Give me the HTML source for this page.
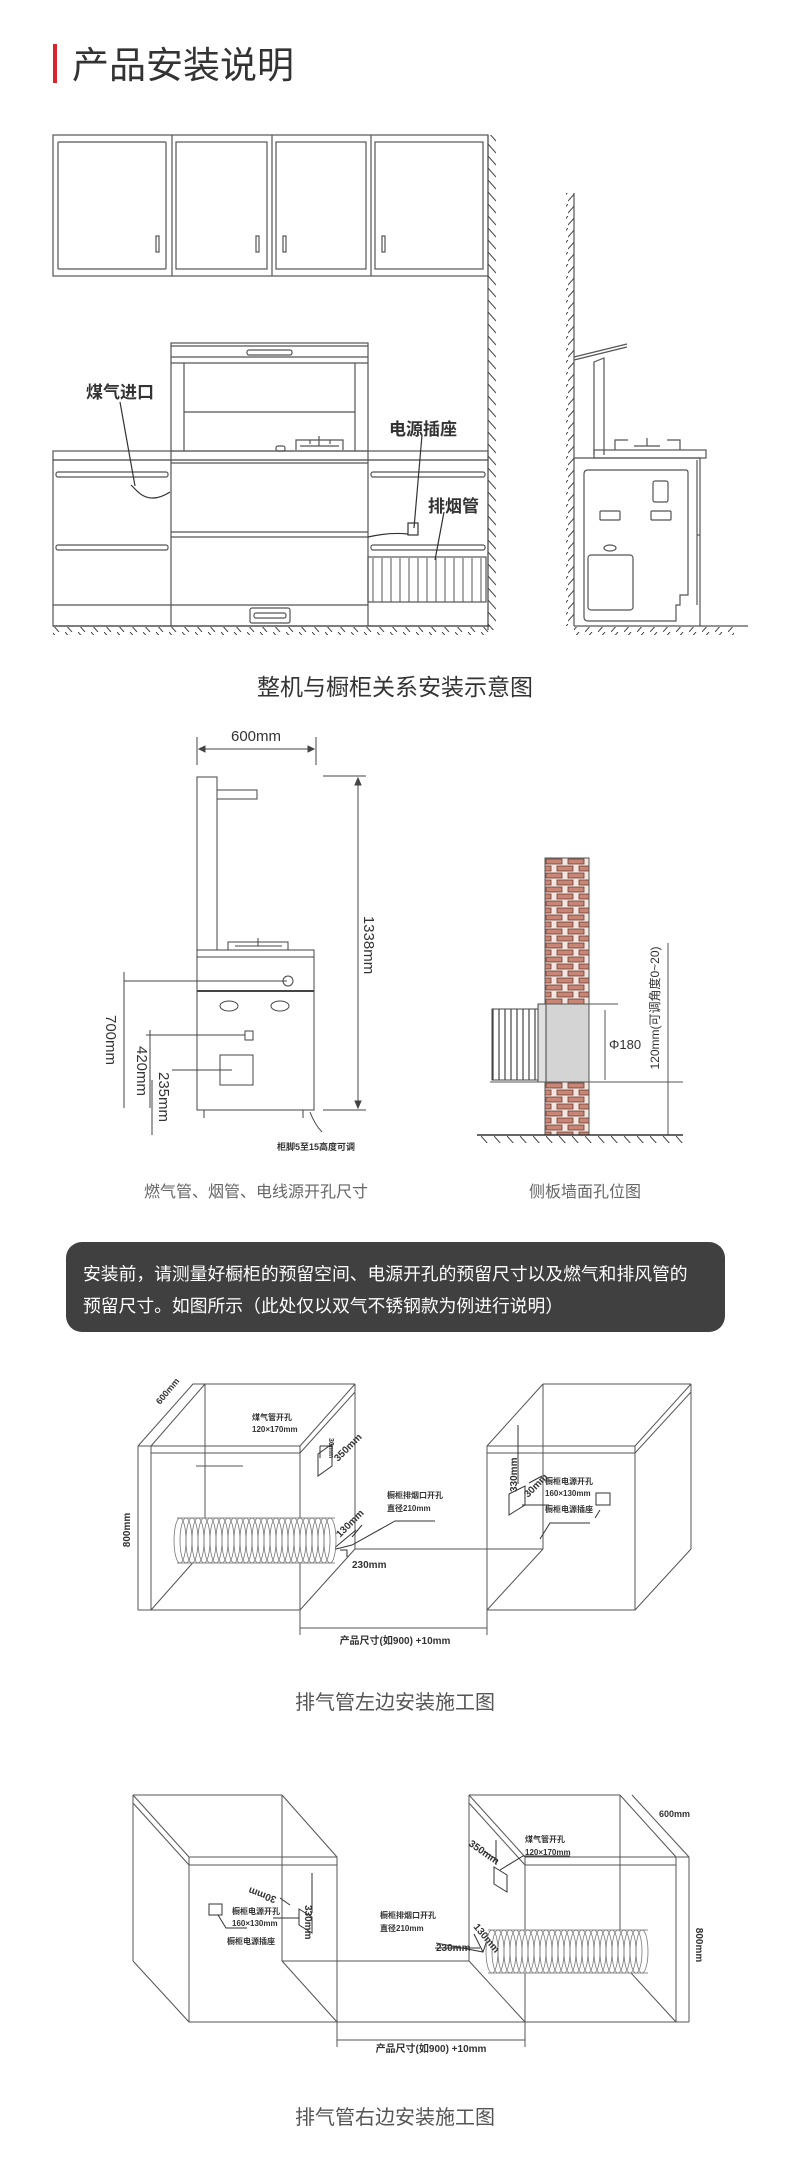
<!DOCTYPE html>
<html><head><meta charset="utf-8"><style>
html,body{margin:0;padding:0;background:#fff;}
svg{display:block;}
text{font-family:"Liberation Sans","Noto Sans CJK SC",sans-serif;}
</style></head><body>
<svg width="790" height="2158" viewBox="0 0 790 2158" xmlns="http://www.w3.org/2000/svg">
<defs>
<pattern id="hr" patternUnits="userSpaceOnUse" width="8" height="12"><line x1="0" y1="0" x2="8" y2="9" stroke="#444" stroke-width="1"/></pattern>
<pattern id="hl" patternUnits="userSpaceOnUse" width="8" height="12"><line x1="8" y1="0" x2="0" y2="9" stroke="#444" stroke-width="1"/></pattern>
<pattern id="hf" patternUnits="userSpaceOnUse" width="13" height="8"><line x1="0" y1="0" x2="7" y2="8" stroke="#444" stroke-width="1"/></pattern>
<pattern id="hf2" patternUnits="userSpaceOnUse" width="13" height="8"><line x1="7" y1="0" x2="0" y2="8" stroke="#444" stroke-width="1"/></pattern>
<pattern id="brick" patternUnits="userSpaceOnUse" x="545" y="858" width="22" height="14">
<rect width="22" height="14" fill="#f3e6e0"/>
<rect x="1" y="1" width="16" height="5" fill="#c98576" stroke="#6a3a2e" stroke-width="0.8"/>
<rect x="-10" y="8" width="16" height="5" fill="#c98576" stroke="#6a3a2e" stroke-width="0.8"/>
<rect x="12" y="8" width="16" height="5" fill="#c98576" stroke="#6a3a2e" stroke-width="0.8"/>
</pattern>
<pattern id="grille" patternUnits="userSpaceOnUse" x="372" width="9" height="10"><line x1="1" y1="0" x2="1" y2="10" stroke="#555" stroke-width="1"/></pattern>
<pattern id="duct" patternUnits="userSpaceOnUse" x="492" width="6" height="10"><line x1="1" y1="0" x2="1" y2="10" stroke="#444" stroke-width="1.2"/></pattern>
<ellipse id="ring1" cx="0" cy="1540.5" rx="6" ry="22.5" fill="none" stroke="#777" stroke-width="0.8"/>
<ellipse id="ring2" cx="0" cy="1951.5" rx="6" ry="21.5" fill="none" stroke="#777" stroke-width="0.8"/>
</defs>

<!-- Title -->
<rect x="53" y="44" width="4" height="39" fill="#d7262c"/>
<text x="72" y="78" font-size="37" fill="#333">产品安装说明</text>

<g fill="none" stroke="#555" stroke-width="1.2">
<!-- upper cabinets -->
<rect x="53" y="135" width="435" height="141"/>
<line x1="172" y1="135" x2="172" y2="276"/><line x1="272" y1="135" x2="272" y2="276"/><line x1="371" y1="135" x2="371" y2="276"/>
<rect x="58" y="142" width="108" height="127" rx="1"/>
<rect x="176" y="142" width="91" height="127"/>
<rect x="276" y="142" width="90" height="127"/>
<rect x="375" y="142" width="108" height="127"/>
<rect x="156" y="236" width="3" height="16"/><rect x="256" y="236" width="3" height="16"/>
<rect x="283" y="236" width="3" height="16"/><rect x="382" y="236" width="3" height="16"/>
<!-- wall -->
<line x1="488" y1="135" x2="488" y2="630"/>
<!-- hood -->
<rect x="171" y="343" width="197" height="108"/>
<line x1="171" y1="346" x2="368" y2="346"/>
<line x1="171" y1="357" x2="368" y2="357"/>
<line x1="171" y1="363" x2="368" y2="363"/>
<rect x="247" y="350" width="45" height="5" rx="2"/>
<line x1="184" y1="363" x2="184" y2="451"/><line x1="355" y1="363" x2="355" y2="451"/>
<line x1="184" y1="412" x2="355" y2="412"/>
<!-- burner -->
<path d="M296 450 V440 H343 V450 M300 446 H339 M310 440 V444 M330 440 V444 M319 436 V446"/>
<rect x="276" y="446" width="9" height="5" rx="2"/>
<!-- counter -->
<rect x="53" y="451" width="435" height="9"/>
<rect x="53" y="460" width="435" height="166"/>
<line x1="171" y1="451" x2="171" y2="626"/><line x1="368" y1="451" x2="368" y2="626"/>
<line x1="171" y1="463" x2="368" y2="463"/>
<line x1="171" y1="532" x2="368" y2="532"/><line x1="171" y1="537" x2="368" y2="537"/>
<line x1="53" y1="605" x2="368" y2="605"/>
<rect x="250" y="608" width="40" height="15" rx="2"/><rect x="254" y="613" width="32" height="5" rx="2"/>
<rect x="56" y="472" width="112" height="5" rx="2"/><rect x="56" y="545" width="112" height="5" rx="2"/>
<rect x="371" y="472" width="114" height="5" rx="2"/><rect x="371" y="545" width="114" height="5" rx="2"/>
<rect x="368" y="557" width="118" height="45"/>
<!-- leaders -->
<path d="M120 402 L135 486 M131 485 L136 490 Q150 505 170 492" stroke="#333"/>
<rect x="408" y="523" width="10" height="12" stroke="#333"/>
<path d="M422 435 L414 528 M368 537 Q390 532 408 534" stroke="#333"/>
<path d="M444 512 L435 560" stroke="#333"/>
</g>
<rect x="369" y="558" width="116" height="44" fill="url(#grille)"/>
<rect x="488" y="135" width="8" height="495" fill="url(#hr)"/>
<line x1="53" y1="626" x2="490" y2="626" stroke="#444" stroke-width="1.2"/>
<rect x="53" y="627" width="437" height="8" fill="url(#hf)"/>
<text x="86" y="398" font-size="17" font-weight="bold" fill="#333">煤气进口</text>
<text x="389" y="435" font-size="17" font-weight="bold" fill="#333">电源插座</text>
<text x="428" y="512" font-size="17" font-weight="bold" fill="#333">排烟管</text>

<!-- side view -->
<g fill="none" stroke="#555" stroke-width="1.2">
<line x1="574" y1="193" x2="574" y2="626"/>
<path d="M574 357 L627 344 M574 360 L627 347 M594 455 V362 L604 358 V455"/>
<rect x="594" y="450" width="112" height="8"/>
<path d="M615 450 V440 H628 M680 450 V440 H667 M634 446 H660 M647 438 V446"/>
<path d="M574 458 H700 V626"/>
<path d="M588 470 H686 Q688 470 688 473 V595 H680 V605 H676 V621 H588 Q584 621 584 617 V474 Q584 470 588 470 Z"/>
<line x1="697" y1="460" x2="697" y2="605"/><line x1="697" y1="535" x2="700" y2="535"/>
<rect x="653" y="481" width="15" height="21" rx="2"/>
<rect x="600" y="511" width="20" height="9" rx="1"/><rect x="651" y="511" width="20" height="9" rx="1"/>
<ellipse cx="610" cy="548" rx="6" ry="3"/>
<rect x="588" y="555" width="45" height="55" rx="3"/>
<line x1="574" y1="626" x2="748" y2="626"/>
</g>
<rect x="566" y="193" width="8" height="433" fill="url(#hl)"/>
<rect x="574" y="627" width="160" height="8" fill="url(#hf2)"/>

<text x="395" y="695" font-size="23" fill="#333" text-anchor="middle">整机与橱柜关系安装示意图</text>

<!-- Section 2 left -->
<g fill="none" stroke="#444" stroke-width="1">
<line x1="197" y1="737" x2="197" y2="765"/><line x1="316" y1="737" x2="316" y2="765"/>
<line x1="199" y1="749" x2="314" y2="749"/>
<path d="M199 749 l6 -3 v6 z M314 749 l-6 -3 v6 z" fill="#444"/>
<rect x="197" y="777" width="20" height="173"/>
<rect x="217" y="790" width="40" height="9"/>
<path d="M228 950 V942 H288 V950 M235 946 H282 M258 938 V946"/>
<rect x="197" y="950" width="117" height="160"/>
<line x1="197" y1="957" x2="314" y2="957"/>
<line x1="197" y1="991" x2="314" y2="991" stroke-width="2"/>
<circle cx="288" cy="981" r="5"/>
<ellipse cx="229" cy="1006" rx="9" ry="5"/><ellipse cx="280" cy="1006" rx="9" ry="5"/>
<rect x="245" y="1031" width="8" height="9"/>
<rect x="220" y="1055" width="33" height="30"/>
<line x1="204" y1="1110" x2="204" y2="1118"/><line x1="303" y1="1110" x2="303" y2="1118"/>
<line x1="323" y1="776" x2="366" y2="776"/><line x1="323" y1="1110" x2="366" y2="1110"/>
<line x1="358" y1="778" x2="358" y2="1108"/>
<path d="M358 778 l-3 7 h6 z M358 1108 l-3 -7 h6 z" fill="#444"/>
<line x1="124" y1="981" x2="287" y2="981"/><line x1="124" y1="972" x2="124" y2="1108"/>
<line x1="146" y1="1035" x2="245" y2="1035"/><line x1="150" y1="1030" x2="150" y2="1108"/>
<line x1="172" y1="1070" x2="232" y2="1070"/><line x1="152" y1="1080" x2="152" y2="1135"/>
<path d="M310 1112 Q315 1125 322 1132"/>
</g>
<text x="256" y="741" font-size="15" fill="#333" text-anchor="middle">600mm</text>
<text transform="translate(364 945) rotate(90)" font-size="15" fill="#333" text-anchor="middle">1338mm</text>
<text transform="translate(106 1040) rotate(90)" font-size="15" fill="#333" text-anchor="middle">700mm</text>
<text transform="translate(137 1071) rotate(90)" font-size="15" fill="#333" text-anchor="middle">420mm</text>
<text transform="translate(159 1097) rotate(90)" font-size="15" fill="#333" text-anchor="middle">235mm</text>
<text x="277" y="1150" font-size="9" font-weight="bold" fill="#333">柜脚5至15高度可调</text>

<!-- brick wall -->
<rect x="545" y="858" width="44" height="277" fill="url(#brick)" stroke="#555" stroke-width="1"/>
<rect x="545" y="1004" width="44" height="78" fill="#d4d4d4" stroke="#555"/>
<rect x="492" y="1009" width="46" height="71" fill="#fff" stroke="#444"/>
<rect x="492" y="1009" width="46" height="71" fill="url(#duct)"/>
<rect x="538" y="1004" width="8" height="78" fill="#e0e0e0" stroke="#444"/>
<g stroke="#555" stroke-width="1" fill="none">
<line x1="545" y1="1004" x2="618" y2="1004"/><line x1="490" y1="1082" x2="683" y2="1082"/>
<line x1="605" y1="1010" x2="605" y2="1080"/><line x1="668" y1="943" x2="668" y2="1135"/>
<line x1="477" y1="1135" x2="683" y2="1135" stroke="#333" stroke-width="1.5"/>
</g>
<rect x="477" y="1136" width="206" height="7" fill="url(#hf)"/>
<text x="609" y="1049" font-size="13" fill="#333">Φ180</text>
<text transform="translate(659 1008) rotate(-90)" font-size="12" fill="#333" text-anchor="middle">120mm(可调角度0~20)</text>

<text x="256" y="1197" font-size="16" fill="#666" text-anchor="middle">燃气管、烟管、电线源开孔尺寸</text>
<text x="585" y="1197" font-size="16" fill="#666" text-anchor="middle">侧板墙面孔位图</text>

<!-- dark box -->
<rect x="66" y="1242" width="659" height="90" rx="16" fill="#404040"/>
<text x="83" y="1280" font-size="17.8" fill="#fff">安装前，请测量好橱柜的预留空间、电源开孔的预留尺寸以及燃气和排风管的</text>
<text x="83" y="1312" font-size="17.8" fill="#fff">预留尺寸。如图所示（此处仅以双气不锈钢款为例进行说明）</text>

<!-- Diagram 1 -->
<g fill="none" stroke="#555" stroke-width="1">
<path d="M138 1446 H300 M138 1610 H300 M151 1446 V1610 M138 1446 V1610 M300 1446 V1610 M151 1453 H300"/>
<path d="M205 1384 H355 M205 1384 V1549 M355 1384 V1549 M151 1446 L205 1384 M138 1446 L193 1384 H205 M300 1446 L355 1384 M300 1453 L355 1392 M151 1610 L205 1549"/>
<path d="M355 1549 H543 M300 1610 L355 1549"/>
<path d="M487 1446 H635 V1610 H487 Z M487 1453 H635 M543 1384 H691 M543 1384 V1549 M487 1446 L543 1384 M635 1446 L691 1384 M635 1453 L691 1392 M691 1384 V1549 M635 1610 L691 1549 M487 1610 L543 1549"/>
<path d="M300 1610 V1635 M487 1610 V1635 M300 1628 H487"/>
<path d="M318 1454 L332 1444 V1466 L318 1476 Z M320 1446 H332 M320 1446 V1458" stroke="#333"/>
<path d="M509 1494 L525 1486 V1505 L509 1515 Z M522 1505 L549 1505 M529 1483 L542 1476 M518 1425 V1484" stroke="#333"/>
<rect x="596" y="1493" width="14" height="12" stroke="#333"/>
<path d="M540 1539 L550 1523 H590 M600 1510 L595 1518" stroke="#333"/>
<path d="M332 1550 L356 1530 M332 1550 L352 1545 L395 1521 H435 M340 1550 L347 1550 L347 1557 M352 1537 L362 1525" stroke="#333"/>
<line x1="196" y1="1466" x2="243" y2="1466"/>
</g>
<rect x="175" y="1518" width="160" height="45" fill="#fff"/>
<line x1="177" y1="1518" x2="335" y2="1518" stroke="#888"/><line x1="177" y1="1563" x2="335" y2="1563" stroke="#888"/>
<use href="#ring1" x="180"/><use href="#ring1" x="186"/><use href="#ring1" x="192"/><use href="#ring1" x="198"/><use href="#ring1" x="204"/><use href="#ring1" x="210"/><use href="#ring1" x="216"/><use href="#ring1" x="222"/><use href="#ring1" x="228"/><use href="#ring1" x="234"/><use href="#ring1" x="240"/><use href="#ring1" x="246"/><use href="#ring1" x="252"/><use href="#ring1" x="258"/><use href="#ring1" x="264"/><use href="#ring1" x="270"/><use href="#ring1" x="276"/><use href="#ring1" x="282"/><use href="#ring1" x="288"/><use href="#ring1" x="294"/><use href="#ring1" x="300"/><use href="#ring1" x="306"/><use href="#ring1" x="312"/><use href="#ring1" x="318"/><use href="#ring1" x="324"/><use href="#ring1" x="330"/>
<g font-size="8" font-weight="bold" fill="#333">
<text x="252" y="1420">煤气管开孔</text><text x="252" y="1432">120×170mm</text>
<text x="387" y="1498">橱柜排烟口开孔</text><text x="387" y="1511">直径210mm</text>
<text x="545" y="1484">橱柜电源开孔</text><text x="545" y="1496">160×130mm</text><text x="545" y="1512">橱柜电源插座</text>
<text x="352" y="1568" font-size="10">230mm</text>
<text x="395" y="1644" font-size="10" text-anchor="middle">产品尺寸(如900) +10mm</text>
<text transform="translate(130 1530) rotate(-90)" font-size="10" text-anchor="middle">800mm</text>
<text transform="translate(160 1405) rotate(-50)" font-size="9">600mm</text>
<text transform="translate(338 1462) rotate(-45)" font-size="10">350mm</text>
<text transform="translate(340 1538) rotate(-45)" font-size="10">130mm</text>
<text transform="translate(517 1492) rotate(-90)" font-size="10">330mm</text>
<text transform="translate(528 1498) rotate(-45)" font-size="10">30mm</text>
<text transform="translate(329 1438) rotate(90)" font-size="7">30mm</text>
</g>
<text x="395" y="1709" font-size="20" fill="#555" text-anchor="middle">排气管左边安装施工图</text>

<!-- Diagram 2 -->
<g fill="none" stroke="#555" stroke-width="1">
<path d="M189 1857 H337 V2022 H189 Z M189 1865 H337 M133 1795 H282 M133 1795 V1961 M282 1795 V1961 M133 1795 L189 1857 M133 1803 L189 1865 M282 1795 L337 1857 M133 1961 L189 2022 M282 1961 L337 2022"/>
<path d="M282 1961 H469"/>
<path d="M525 1857 H689 M525 1865 H676 M525 1857 V2022 M676 1857 V2022 M689 1857 V2022 M469 1795 H620 M469 1795 V1961 M620 1795 V1961 M469 1795 L525 1857 M469 1803 L525 1865 M620 1795 L676 1857 M632 1795 L689 1857 M469 1961 L525 2022 M620 1961 L676 2022 M337 2022 H689"/>
<path d="M337 2022 V2047 M525 2022 V2047 M337 2040 H525"/>
<path d="M299 1909 L312 1917 V1933 L299 1925 Z M273 1918 H299 M290 1905 L280 1898 M312 1913 V1873" stroke="#333"/>
<rect x="209" y="1904" width="13" height="11" stroke="#333"/>
<path d="M218 1915 L226 1928 H247" stroke="#333"/>
<path d="M494 1867 L507 1875 V1892 L494 1884 Z M500 1870 L523 1856 H570 M494 1858 L484 1851 M496 1840 V1865" stroke="#333"/>
<path d="M436 1943 L483 1952 L487 1940 M435 1948 H480 M483 1952 L474 1934" stroke="#333"/>
</g>
<rect x="486" y="1930" width="162" height="43" fill="#fff"/>
<line x1="488" y1="1930" x2="648" y2="1930" stroke="#888"/><line x1="488" y1="1973" x2="648" y2="1973" stroke="#888"/>
<use href="#ring2" x="492"/><use href="#ring2" x="498"/><use href="#ring2" x="504"/><use href="#ring2" x="510"/><use href="#ring2" x="516"/><use href="#ring2" x="522"/><use href="#ring2" x="528"/><use href="#ring2" x="534"/><use href="#ring2" x="540"/><use href="#ring2" x="546"/><use href="#ring2" x="552"/><use href="#ring2" x="558"/><use href="#ring2" x="564"/><use href="#ring2" x="570"/><use href="#ring2" x="576"/><use href="#ring2" x="582"/><use href="#ring2" x="588"/><use href="#ring2" x="594"/><use href="#ring2" x="600"/><use href="#ring2" x="606"/><use href="#ring2" x="612"/><use href="#ring2" x="618"/><use href="#ring2" x="624"/><use href="#ring2" x="630"/><use href="#ring2" x="636"/><use href="#ring2" x="642"/>
<g font-size="8" font-weight="bold" fill="#333">
<text x="232" y="1914">橱柜电源开孔</text><text x="232" y="1926">160×130mm</text><text x="227" y="1944">橱柜电源插座</text>
<text x="380" y="1918">橱柜排烟口开孔</text><text x="380" y="1931">直径210mm</text>
<text x="525" y="1842">煤气管开孔</text><text x="525" y="1855">120×170mm</text>
<text x="436" y="1951" font-size="10">230mm</text>
<text x="431" y="2052" font-size="10" text-anchor="middle">产品尺寸(如900) +10mm</text>
<text transform="translate(696 1945) rotate(90)" font-size="10" text-anchor="middle">800mm</text>
<text x="659" y="1817" font-size="9">600mm</text>
<text transform="translate(468 1845) rotate(35)" font-size="10">350mm</text>
<text transform="translate(473 1927) rotate(50)" font-size="10">130mm</text>
<text transform="translate(305 1905) rotate(90)" font-size="10">330mm</text>
<text transform="translate(277 1897) rotate(200)" font-size="10">30mm</text>
</g>
<text x="395" y="2124" font-size="20" fill="#555" text-anchor="middle">排气管右边安装施工图</text>
</svg>
</body></html>
